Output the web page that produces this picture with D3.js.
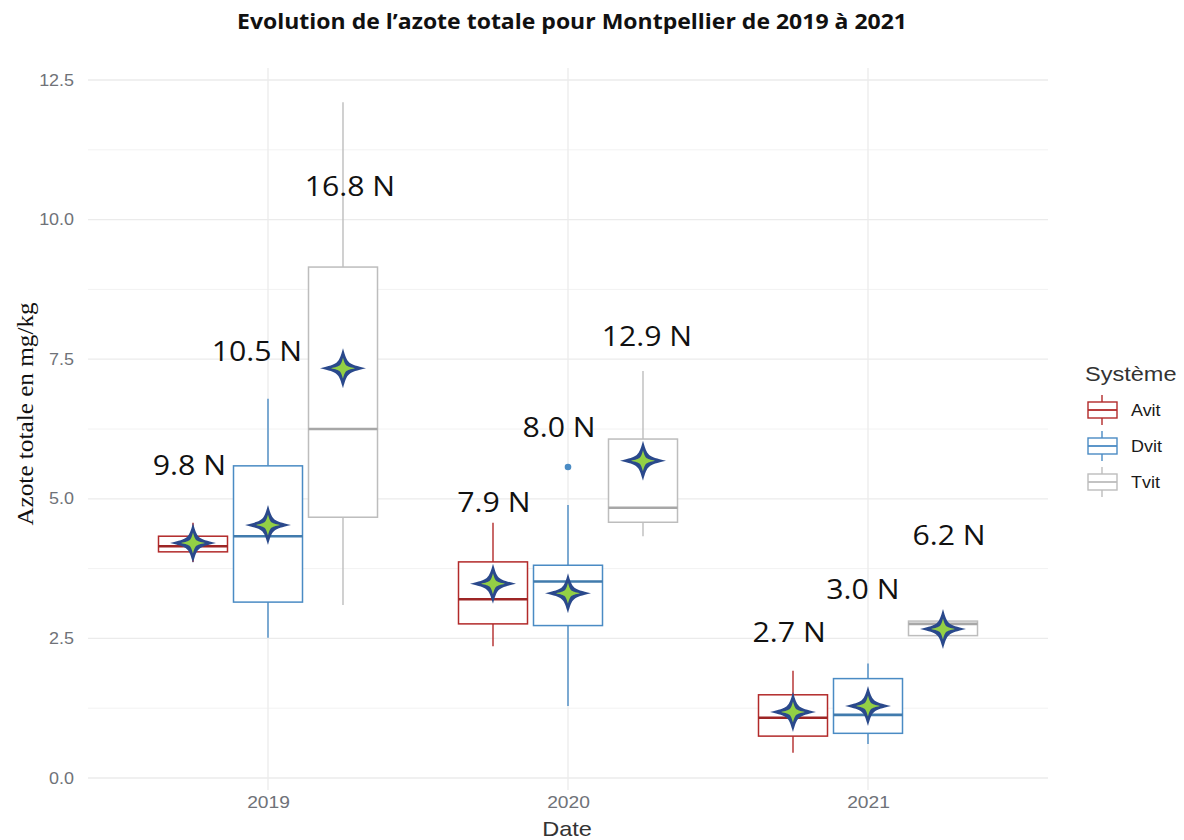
<!DOCTYPE html>
<html><head><meta charset="utf-8">
<script src="https://cdn.jsdelivr.net/npm/d3@7"></script>
<style>
html,body{margin:0;padding:0;background:#fff;}
svg{display:block;}
</style></head>
<body>
<script>
// ---------- data ----------
const years = ["2019", "2020", "2021"];
const systems = ["Avit", "Dvit", "Tvit"];
// one entry per (year, system), order: 2019 Avit, Dvit, Tvit, 2020 ..., 2021 ...
const whiskerLow  = [3.87, 2.51, 3.10, 2.36, 1.29, 4.33, 0.45, 0.61, 2.50];
const q1          = [4.05, 3.15, 4.67, 2.76, 2.73, 4.58, 0.75, 0.80, 2.55];
const median      = [4.15, 4.33, 6.25, 3.20, 3.52, 4.84, 1.08, 1.13, 2.76];
const q3          = [4.33, 5.59, 9.15, 3.87, 3.81, 6.07, 1.49, 1.78, 2.81];
const whiskerHigh = [4.57, 6.79, 12.10, 4.57, 4.89, 7.29, 1.92, 2.05, 2.85];
const means       = [4.21, 4.53, 7.34, 3.48, 3.31, 5.68, 1.18, 1.29, 2.67];
const outliers    = [[], [], [], [], [5.57], [], [], [], []];
const labels      = ["9.8 N", "10.5 N", "16.8 N", "7.9 N", "8.0 N", "12.9 N", "2.7 N", "3.0 N", "6.2 N"];
const labelY      = [5.61, 7.64, 10.61, 4.95, 6.29, 7.92, 2.61, 3.38, 4.36];
const labelNudge  = [-0.012, -0.037, 0.023, 0.003, -0.030, 0.013, -0.013, -0.017, 0.020];
const yTicks = [0, 2.5, 5, 7.5, 10, 12.5];
const yMinor = [1.25, 3.75, 6.25, 8.75, 11.25];

const colors = {Avit: "#b22a2a", Dvit: "#4a8bc4", Tvit: "#bdbdbd"};

// ---------- layout ----------
const W = 1184, H = 840;
const panel = {left: 88, right: 1048, top: 68, bottom: 790};
const svg = d3.select("body").append("svg").attr("width", W).attr("height", H);

const defs = svg.append("defs");
defs.append("filter").attr("id", "soft").attr("x", "-30%").attr("y", "-30%")
  .attr("width", "160%").attr("height", "160%")
  .append("feGaussianBlur").attr("stdDeviation", 0.7);

function stretch(sel, f) {
  sel.each(function() {
    const w = this.getComputedTextLength();
    d3.select(this).attr("textLength", w * f).attr("lengthAdjust", "spacingAndGlyphs");
  });
}

const x = d3.scaleLinear().domain([0.4, 3.6]).range([panel.left, panel.right]);
const y = d3.scaleLinear().domain([0, 12.5]).range([778, 80]);
const dodge = 0.25, boxW = 0.23;

// grid
const grid = svg.append("g");
grid.selectAll(".minor").data(yMinor).join("line")
  .attr("x1", panel.left).attr("x2", panel.right)
  .attr("y1", d => y(d)).attr("y2", d => y(d))
  .attr("stroke", "#f2f2f2").attr("stroke-width", 1);
grid.selectAll(".major").data(yTicks).join("line")
  .attr("x1", panel.left).attr("x2", panel.right)
  .attr("y1", d => y(d)).attr("y2", d => y(d))
  .attr("stroke", "#ebebeb").attr("stroke-width", 1.3);
grid.selectAll(".vmajor").data(years).join("line")
  .attr("x1", (d, i) => x(i + 1)).attr("x2", (d, i) => x(i + 1))
  .attr("y1", panel.top).attr("y2", panel.bottom)
  .attr("stroke", "#ebebeb").attr("stroke-width", 1.3);

// axes
const yAxis = svg.append("g").attr("transform", `translate(${panel.left},0)`)
  .call(d3.axisLeft(y).tickValues(yTicks).tickFormat(d3.format(".1f")).tickSize(0).tickPadding(14));
yAxis.select(".domain").remove();
yAxis.selectAll("text").attr("font-family", "Liberation Sans, Arial, sans-serif")
  .attr("font-size", 16).attr("fill", "#6f7278").call(stretch, 1.12);

const xAxis = svg.append("g").attr("transform", `translate(0,${panel.bottom})`)
  .call(d3.axisBottom(x).tickValues([1, 2, 3]).tickFormat((d) => years[d - 1]).tickSize(0).tickPadding(7));
xAxis.select(".domain").remove();
xAxis.selectAll("text").attr("font-family", "Liberation Sans, Arial, sans-serif")
  .attr("font-size", 16).attr("fill", "#6f7278").call(stretch, 1.2);

// records
const recs = [];
years.forEach((yr, i) => systems.forEach((s, j) => {
  const k = i * 3 + j;
  recs.push({yr, s, cx: i + 1 + (j - 1) * dodge, lo: whiskerLow[k], q1: q1[k], med: median[k],
    q3: q3[k], hi: whiskerHigh[k], mean: means[k], out: outliers[k], label: labels[k],
    ly: labelY[k], nudge: labelNudge[k]});
}));

const boxes = svg.append("g").selectAll("g").data(recs).join("g");
const half = (x(boxW) - x(0)) / 2;
boxes.append("line")
  .attr("x1", d => x(d.cx)).attr("x2", d => x(d.cx))
  .attr("y1", d => y(d.hi)).attr("y2", d => y(d.q3))
  .attr("stroke", d => colors[d.s]).attr("stroke-width", 1.4);
boxes.append("line")
  .attr("x1", d => x(d.cx)).attr("x2", d => x(d.cx))
  .attr("y1", d => y(d.q1)).attr("y2", d => y(d.lo))
  .attr("stroke", d => colors[d.s]).attr("stroke-width", 1.4);
boxes.append("rect")
  .attr("x", d => x(d.cx) - half).attr("width", 2 * half)
  .attr("y", d => y(d.q3)).attr("height", d => y(d.q1) - y(d.q3))
  .attr("fill", "#fff").attr("stroke", d => colors[d.s]).attr("stroke-width", 1.5);
boxes.append("line")
  .attr("x1", d => x(d.cx) - half).attr("x2", d => x(d.cx) + half)
  .attr("y1", d => y(d.med)).attr("y2", d => y(d.med))
  .attr("stroke", d => d3.color(colors[d.s]).darker(0.35)).attr("stroke-width", 2.6);
boxes.selectAll("circle").data(d => d.out.map(v => ({v, d}))).join("circle")
  .attr("cx", o => x(o.d.cx)).attr("cy", o => y(o.v)).attr("r", 3.3)
  .attr("fill", o => colors[o.d.s]);

// 4-pointed sparkle star with concave sides
function sparkle(rx, ry, w) {
  return `M${rx},0 C${w},${w} ${w},${w} 0,${ry} C${-w},${w} ${-w},${w} ${-rx},0 ` +
         `C${-w},${-w} ${-w},${-w} 0,${-ry} C${w},${-w} ${w},${-w} ${rx},0Z`;
}
const starG = svg.append("g").selectAll("g").data(recs).join("g")
  .attr("transform", d => `translate(${x(d.cx)},${y(d.mean)})`);
starG.append("path").attr("d", sparkle(23, 20, 4.5)).attr("fill", "#2b4a8c")
  .attr("filter", "url(#soft)");
starG.append("path").attr("d", sparkle(12, 10.5, 2.3)).attr("fill", "#93d045");

// labels
svg.append("g").selectAll("text").data(recs).join("text")
  .attr("x", d => x(d.cx + d.nudge)).attr("y", d => y(d.ly))
  .attr("dy", "0.36em").attr("text-anchor", "middle")
  .attr("font-family", "Open Sans, Noto Sans, sans-serif").attr("font-size", 28)
  .attr("fill", "#111").text(d => d.label).call(stretch, 1.08);

// titles
svg.append("text").attr("x", 572).attr("y", 29).attr("text-anchor", "middle")
  .attr("font-family", "Open Sans, sans-serif").attr("font-weight", "bold").attr("font-size", 21)
  .attr("textLength", 670).attr("lengthAdjust", "spacingAndGlyphs")
  .attr("fill", "#111").text("Evolution de l’azote totale pour Montpellier de 2019 à 2021");

svg.append("text").attr("x", 567).attr("y", 836).attr("text-anchor", "middle")
  .attr("font-family", "Liberation Sans, Arial, sans-serif").attr("font-size", 21)
  .attr("fill", "#333").text("Date").call(stretch, 1.12);

svg.append("text").attr("transform", "translate(33,414) rotate(-90)").attr("text-anchor", "middle")
  .attr("font-family", "Liberation Serif, Times New Roman, serif").attr("font-size", 24)
  .attr("fill", "#111").text("Azote totale en mg/kg").call(stretch, 1.05);

// legend
const leg = svg.append("g").attr("transform", "translate(1085,0)");
leg.append("text").attr("x", 0).attr("y", 381)
  .attr("font-family", "Liberation Sans, Arial, sans-serif").attr("font-size", 21)
  .attr("fill", "#333").text("Système").call(stretch, 1.12);
const rows = leg.selectAll("g.row").data(systems).join("g")
  .attr("transform", (d, i) => `translate(0,${410 + i * 36})`);
rows.append("line").attr("x1", 17).attr("x2", 17).attr("y1", -15).attr("y2", 15)
  .attr("stroke", d => colors[d]).attr("stroke-width", 1.4);
rows.append("rect").attr("x", 3).attr("y", -8).attr("width", 29).attr("height", 16)
  .attr("fill", "#fff").attr("stroke", d => colors[d]).attr("stroke-width", 1.4);
rows.append("line").attr("x1", 3).attr("x2", 32).attr("y1", 0).attr("y2", 0)
  .attr("stroke", d => colors[d]).attr("stroke-width", 1.8);
rows.append("text").attr("x", 46).attr("y", 0).attr("dy", "0.36em")
  .attr("font-family", "Liberation Sans, Arial, sans-serif").attr("font-size", 16)
  .attr("fill", "#1a1a1a").text(d => d).call(stretch, 1.12);
</script>
</body></html>
